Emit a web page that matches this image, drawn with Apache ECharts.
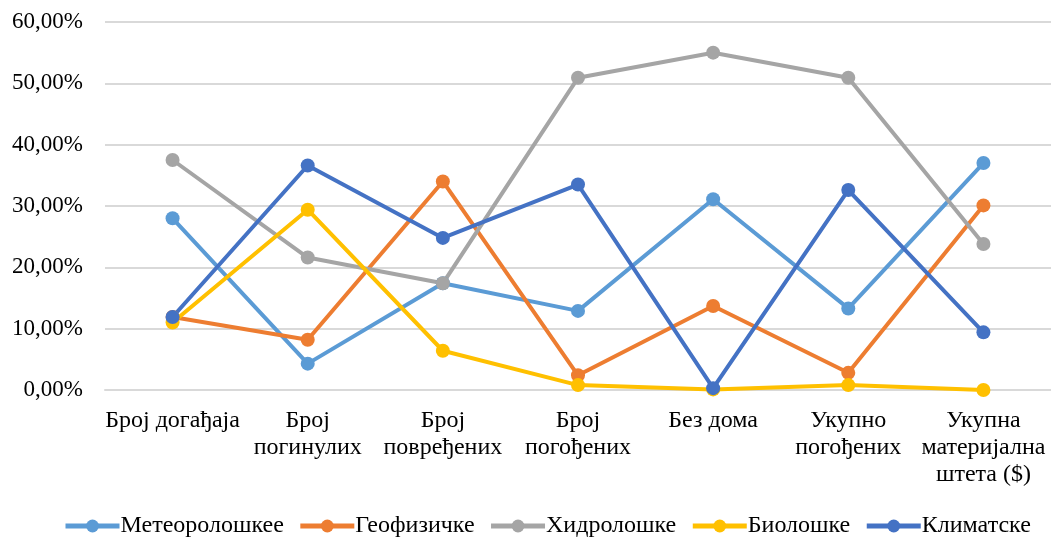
<!DOCTYPE html>
<html>
<head>
<meta charset="utf-8">
<script src="https://cdn.jsdelivr.net/npm/echarts@6/dist/echarts.min.js"></script>
<style>
  html, body { margin: 0; padding: 0; background: #fff; }
  #chart { width: 1051px; height: 538px; }
</style>
</head>
<body>
<div id="chart"></div>
<script>
// категорије
const categories = ['Број догађаја', 'Број\nпогинулих', 'Број\nповређених', 'Број\nпогођених', 'Без дома', 'Укупно\nпогођених', 'Укупна\nматеријална\nштета ($)']
const meteo = [28.0, 4.3, 17.4, 12.9, 31.1, 13.3, 37.0]
const geo = [11.9, 8.2, 34.0, 2.4, 13.7, 2.8, 30.1]
const hydro = [37.5, 21.6, 17.4, 50.9, 55.0, 50.9, 23.8]
const bio = [11.0, 29.4, 6.4, 0.8, 0.1, 0.8, 0.0]
const climate = [11.9, 36.6, 24.8, 33.5, 0.3, 32.6, 9.4]

const font = 'Liberation Serif'
const fmt = v => v.toFixed(2).replace('.', ',') + '%'

function line (name, data, color) {
  return {
    name: name,
    type: 'line',
    data: data,
    symbol: 'circle',
    symbolSize: 14,
    itemStyle: { color: color },
    lineStyle: { color: color, width: 4 },
    emphasis: { disabled: true }
  }
}

let myChart = echarts.init(document.getElementById('chart'))
myChart.setOption({
  animation: false,
  textStyle: { fontFamily: font },
  grid: { left: 105, right: -4, top: 22, bottom: 148 },
  legend: {
    top: 509,
    left: 58,
    itemWidth: 54,
    itemHeight: 16,
    itemGap: 14,
    lineStyle: { width: 5 },
    textStyle: { fontFamily: font, fontSize: 24, color: '#000', padding: [0, 0, 0, -4] },
    data: ['Метеоролошкее', 'Геофизичке', 'Хидролошке', 'Биолошке', 'Климатске']
  },
  xAxis: {
    type: 'category',
    data: categories,
    boundaryGap: true,
    axisTick: { show: false },
    axisLine: { lineStyle: { color: '#d9d9d9', width: 2 } },
    axisLabel: { interval: 0, margin: 17, fontFamily: font, fontSize: 24, color: '#000', lineHeight: 27 }
  },
  yAxis: {
    type: 'value',
    min: 0,
    max: 60,
    interval: 10,
    axisLine: { show: false },
    axisTick: { show: false },
    splitLine: { lineStyle: { color: '#d9d9d9', width: 2 } },
    axisLabel: { formatter: fmt, margin: 22, fontFamily: font, fontSize: 23, color: '#000' }
  },
  series: [
    line('Метеоролошкее', meteo, '#5b9bd5'),
    line('Геофизичке', geo, '#ed7d31'),
    line('Хидролошке', hydro, '#a5a5a5'),
    line('Биолошке', bio, '#ffc000'),
    line('Климатске', climate, '#4472c4')
  ]
})
</script>
</body>
</html>
